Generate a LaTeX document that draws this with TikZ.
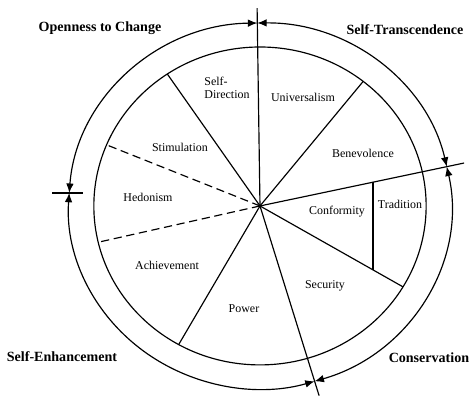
\documentclass[tikz,border=0pt]{standalone}
\usepackage{fontspec}
\setmainfont{Liberation Serif}
\usetikzlibrary{arrows.meta}

\begin{document}
\begin{tikzpicture}[x=0.03135cm,y=0.03cm,line width=1pt,
  arr/.style={{Latex[length=8pt,width=6.5pt]}-{Latex[length=8pt,width=6.5pt]}},
  val/.style={font=\fontsize{10.2}{11.5}\selectfont},
  grp/.style={font=\fontsize{12}{14}\selectfont\bfseries}]
\useasboundingbox (-248.8,-200) rectangle (204.8,206);
\coordinate (c) at (0,0);
\coordinate (top) at (90.8:198);
\coordinate (right) at (12.4:200);
\coordinate (bottom) at (-73.4:198);
\coordinate (p1) at (51.6:159);
\coordinate (p2) at (-30.6:159);
\coordinate (p3) at (240.7:159);
\coordinate (p4) at (193.2:159);
\coordinate (p5) at (157.4:159);
\coordinate (p6) at (123.9:159);
\coordinate (t1) at (108.1,23.8);
\coordinate (t2) at (108.1,-63.9);
\coordinate (tk1) at (-199,13);
\coordinate (tk2) at (-169.4,13);
\draw (c) circle (159);
\draw (c) -- (top);
\draw (c) -- (right);
\draw (c) -- (bottom);
\draw (c) -- (p1);
\draw (c) -- (p2);
\draw (c) -- (p3);
\draw (c) -- (p6);
\draw[dash pattern=on 7pt off 4pt] (c) -- (p4);
\draw[dash pattern=on 7pt off 4pt] (c) -- (p5);
\draw (t1) -- (t2);
\draw (tk1) -- (tk2);
\draw[arr] (12.4:183) arc[start angle=12.4,end angle=90.8,radius=183];
\draw[arr] (90.8:183) arc[start angle=90.8,end angle=175.9,radius=183];
\draw[arr] (175.9:183) arc[start angle=175.9,end angle=286.6,radius=183];
\draw[arr] (286.6:183) arc[start angle=286.6,end angle=372.4,radius=183];
\node[val,align=left] (selfdir) at (-31.6,118) {Self-\\Direction};
\node[val] (univ) at (41.1,109) {Universalism};
\node[val] (bene) at (98.6,53) {Benevolence};
\node[val] (stim) at (-76.6,59) {Stimulation};
\node[val] (hed) at (-107.2,9) {Hedonism};
\node[val] (ach) at (-89,-59) {Achievement};
\node[val] (pow) at (-15.3,-103) {Power};
\node[val] (sec) at (62.2,-80) {Security};
\node[val] (conf) at (73.7,-6) {Conformity};
\node[val] (trad) at (134,2) {Tradition};
\node[grp] (open) at (-153.1,178) {Openness to Change};
\node[grp] (trans) at (138.8,176) {Self-Transcendence};
\node[grp] (enh) at (-189.5,-151) {Self-Enhancement};
\node[grp] (cons) at (161.7,-152) {Conservation};
\end{tikzpicture}
\end{document}
